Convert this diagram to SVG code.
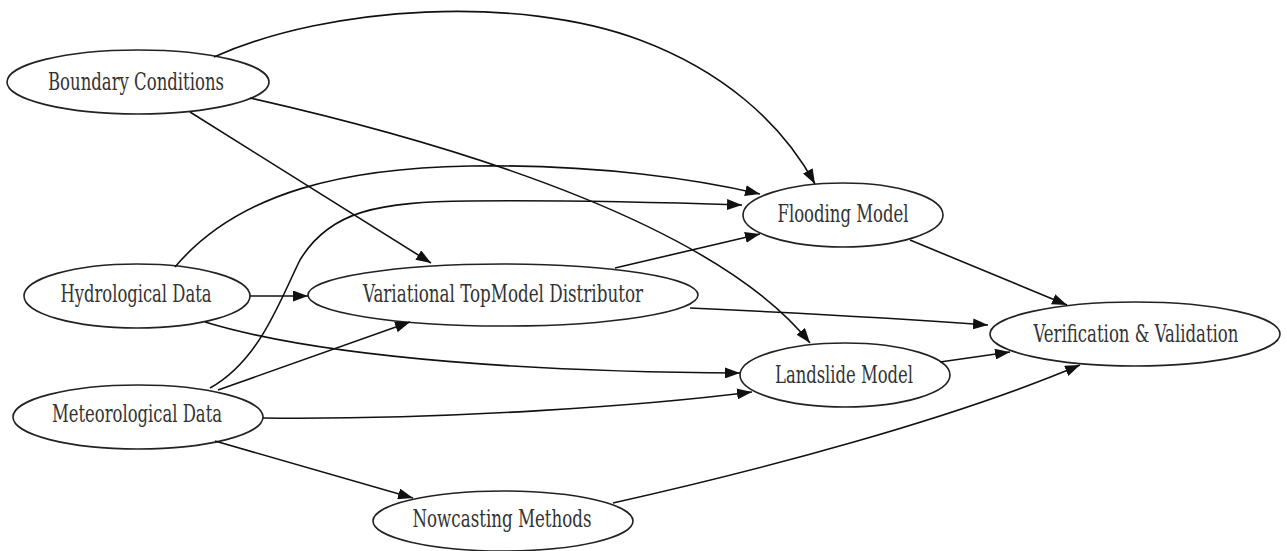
<svg xmlns="http://www.w3.org/2000/svg" width="1287" height="551" viewBox="0 0 1287 551">
<style>
.node ellipse{fill:#fff;stroke:#222;stroke-width:1.6}
.node text{font-family:"DejaVu Serif Condensed","DejaVu Serif","Liberation Serif",serif;font-size:24px;fill:#333;text-anchor:middle}
.edges path{fill:none;stroke:#111;stroke-width:1.6;marker-end:url(#arr)}
</style>
<defs>
<marker id="arr" markerUnits="userSpaceOnUse" markerWidth="15" markerHeight="11" refX="15" refY="5.5" orient="auto">
<path d="M0,0 L15,5.5 L0,11 z" fill="#111"/>
</marker>
</defs>
<rect width="1287" height="551" fill="#fff"/>
<g id="n_boundary" class="node"><ellipse cx="138" cy="82" rx="131" ry="32"/><text x="136" y="90" textLength="176" lengthAdjust="spacingAndGlyphs">Boundary Conditions</text></g>
<g id="n_hydro" class="node"><ellipse cx="137" cy="296" rx="113" ry="32"/><text x="136" y="302" textLength="151" lengthAdjust="spacingAndGlyphs">Hydrological Data</text></g>
<g id="n_meteo" class="node"><ellipse cx="138" cy="417" rx="125" ry="32"/><text x="137" y="422" textLength="170" lengthAdjust="spacingAndGlyphs">Meteorological Data</text></g>
<g id="n_var" class="node"><ellipse cx="503" cy="295" rx="195" ry="31"/><text x="503" y="302" textLength="280" lengthAdjust="spacingAndGlyphs">Variational TopModel Distributor</text></g>
<g id="n_flood" class="node"><ellipse cx="843" cy="215" rx="100" ry="32"/><text x="843" y="222" textLength="131" lengthAdjust="spacingAndGlyphs">Flooding Model</text></g>
<g id="n_land" class="node"><ellipse cx="845" cy="375" rx="105" ry="32"/><text x="844" y="383" textLength="138" lengthAdjust="spacingAndGlyphs">Landslide Model</text></g>
<g id="n_verif" class="node"><ellipse cx="1135" cy="334" rx="145" ry="32"/><text x="1136" y="342" textLength="205" lengthAdjust="spacingAndGlyphs">Verification &amp; Validation</text></g>
<g id="n_now" class="node"><ellipse cx="503" cy="521" rx="130" ry="30"/><text x="502" y="527" textLength="179" lengthAdjust="spacingAndGlyphs">Nowcasting Methods</text></g>
<g id="connectors" class="edges">
<path d="M214,57 C330,5 520,-5 640,40 C720,70 780,120 815,184"/>
<path d="M250,98 C480,150 720,230 810,343"/>
<path d="M190,112 L431,263"/>
<path d="M175,267 C240,190 350,168 470,166 C600,164 700,180 760,194"/>
<path d="M250,296 L308,296"/>
<path d="M205,322 C330,360 550,372 740,373"/>
<path d="M218,390 L410,322"/>
<path d="M210,388 C260,360 280,300 300,260 C330,210 380,202 470,201 C580,200 680,203 742,205"/>
<path d="M263,418 C450,420 650,405 752,392"/>
<path d="M215,441 L413,498"/>
<path d="M615,268 L760,234"/>
<path d="M690,308 C800,313 920,320 988,325"/>
<path d="M910,240 L1067,305"/>
<path d="M940,362 L1010,352"/>
<path d="M613,503 C760,470 950,420 1080,365"/>
</g>
</svg>
